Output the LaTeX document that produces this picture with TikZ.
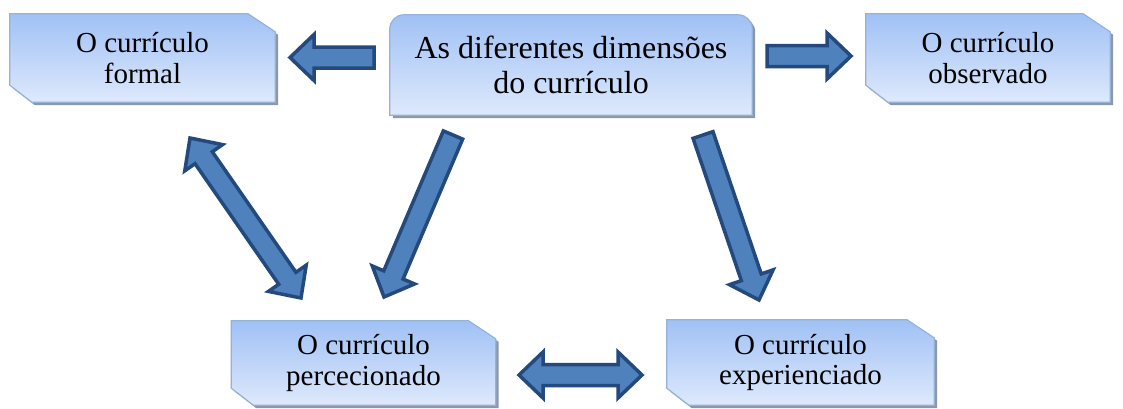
\documentclass[tikz,border=0pt]{standalone}
\usepackage{fontspec}
\setmainfont{Liberation Serif}
\usetikzlibrary{calc,shadows,backgrounds}

\definecolor{boxtop}{RGB}{160,193,245}
\definecolor{boxbot}{RGB}{222,233,252}
\definecolor{boxline}{RGB}{149,179,215}
\definecolor{boxshadow}{RGB}{140,152,170}
\definecolor{arrowfill}{RGB}{79,129,189}
\definecolor{arrowline}{RGB}{36,73,124}

\tikzset{
  boxlook/.style={draw=boxline, line width=1.2pt, top color=boxtop, bottom color=boxbot,
    drop shadow={shadow xshift=3pt, shadow yshift=-3pt, fill=boxshadow, opacity=1}},
  dimbox/.style={rectangle, align=center, inner sep=0pt, font=\fontsize{29}{30.5}\selectfont},
  fatarrow/.style={fill=arrowfill, draw=arrowline, line width=3.5pt, line join=miter},
}

% box with snipped top right and bottom left corners
\newcommand{\snipbox}[1]{%
  \begin{scope}[on background layer]
    \path[boxlook] (#1.north west) -- ([xshift=-27pt]#1.north east) -- ([yshift=-18pt]#1.north east)
      -- (#1.south east) -- ([xshift=22pt]#1.south west) -- ([yshift=17pt]#1.south west) -- cycle;
  \end{scope}
}
% block arrow from #1 to #2
\newcommand{\onearrow}[2]{%
  \path ($(#2)!24pt!(#1)$) coordinate (hd);
  \draw[fatarrow] ($(#1)!10.5pt!90:(#2)$) -- ($(hd)!10.5pt!90:(#2)$) -- ($(hd)!23pt!90:(#2)$)
    -- (#2) -- ($(hd)!23pt!-90:(#2)$) -- ($(hd)!10.5pt!-90:(#2)$) -- ($(#1)!10.5pt!-90:(#2)$) -- cycle;
}
% block arrow with two heads
\newcommand{\twoarrow}[2]{%
  \path ($(#1)!24pt!(#2)$) coordinate (ha) ($(#2)!24pt!(#1)$) coordinate (hb);
  \draw[fatarrow] (#1) -- ($(ha)!23pt!90:(#2)$) -- ($(ha)!10.5pt!90:(#2)$) -- ($(hb)!10.5pt!90:(#2)$)
    -- ($(hb)!23pt!90:(#2)$) -- (#2) -- ($(hb)!23pt!-90:(#2)$) -- ($(hb)!10.5pt!-90:(#2)$)
    -- ($(ha)!10.5pt!-90:(#2)$) -- ($(ha)!23pt!-90:(#2)$) -- cycle;
}

\begin{document}
\begin{tikzpicture}[x=1pt,y=-1pt]
  \useasboundingbox (0,0) rectangle (1123,408);

  % the boxes
  \node (dims) at (571,65) [minimum width=362pt, minimum height=100pt, inner sep=0pt,
    align=center, font=\fontsize{32}{35}\selectfont] {As diferentes dimensões\\do currículo};
  \begin{scope}[on background layer]
    \path[boxlook] (dims.south east) -- (dims.south west) [rounded corners=14pt] -- (dims.north west)
      -- (dims.north east) -- (dims.south east) [sharp corners] -- cycle;
  \end{scope}

  \node (formal) at (142.5,58) [dimbox, minimum width=265pt, minimum height=88pt] {O currículo\\formal};
  \node (observ) at (988,58) [dimbox, minimum width=244pt, minimum height=88pt] {O currículo\\observado};
  \node (percec) at (363.5,363) [dimbox, minimum width=264pt, minimum height=84pt] {O currículo\\percecionado};
  \node (exper) at (800.5,362.5) [dimbox, minimum width=267pt, minimum height=85pt] {O currículo\\experienciado};
  \snipbox{formal}
  \snipbox{observ}
  \snipbox{percec}
  \snipbox{exper}

  % arrow ends
  \coordinate (formal-in) at (290,57.5);
  \coordinate (formal-out) at (374,57.5);
  \coordinate (observ-out) at (767,56);
  \coordinate (observ-in) at (851,56);
  \coordinate (percec-out) at (453,135);
  \coordinate (percec-in) at (384,297);
  \coordinate (exper-out) at (703,135);
  \coordinate (exper-in) at (759,300);
  \coordinate (fp-top) at (190,138);
  \coordinate (fp-bot) at (301,298);
  \coordinate (pe-left) at (519,375);
  \coordinate (pe-right) at (642,375);

  \onearrow{formal-out}{formal-in}
  \onearrow{observ-out}{observ-in}
  \onearrow{percec-out}{percec-in}
  \onearrow{exper-out}{exper-in}
  \twoarrow{fp-top}{fp-bot}
  \twoarrow{pe-left}{pe-right}

\end{tikzpicture}
\end{document}
